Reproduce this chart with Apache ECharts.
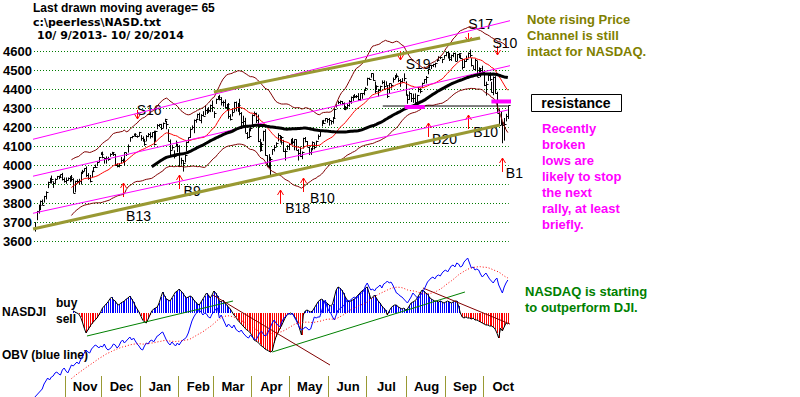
<!DOCTYPE html>
<html>
<head>
<meta charset="utf-8">
<script src="https://cdn.jsdelivr.net/npm/echarts@6.0.0/dist/echarts.min.js"></script>
<style>
html,body{margin:0;padding:0;background:#ffffff;}
#chart{width:800px;height:397px;}
</style>
</head>
<body>
<div id="chart"></div>
<script>
// ---------------- DATA (trading days 10/9/2013 .. 10/20/2014) ----------------
const closes = [
3677,3760,3792,3815,3794,3840,3863,3915,3920,3929,3907,3928,3943,3940,3953,3931,3920,
3922,3936,3940,3931,3857,3919,3919,3920,3966,3972,3985,3949,3932,3921,3969,3991,3994,4017,4044,4059,
4045,4037,4038,4033,4063,4069,4060,4004,3999,4001,4029,4023,4070,4059,4104,4148,4155,4167,4156,4154,4177,
4143,4131,4113,4153,4165,4156,4175,4113,4183,4215,4218,4197,4225,4243,4219,4128,4083,4097,4052,4123,4104,
3997,4031,4011,4057,4126,4148,4191,4201,4240,4244,4273,4238,4267,4263,4292,4287,4292,4319,4308,
4277,4351,4358,4352,4336,4334,4307,4323,4260,4245,4280,4333,4307,4319,4276,4227,4235,4173,4152,4155,4199,
4268,4276,4238,4128,4080,4113,4183,4054,3999,4022,4034,4086,4095,4121,4161,4126,4148,4076,4074,4104,4115,
4127,4123,4138,4080,4067,4051,4071,4144,4130,4100,4069,4090,4126,4096,4131,4154,4185,4237,4226,4248,4243,
4237,4234,4251,4296,4321,4336,4338,4331,4297,4310,4321,4337,4362,4359,4368,4368,4350,4379,4379,4398,4408,
4458,4457,4486,4452,4392,4419,4397,4416,4441,4417,4426,4364,4432,4425,4456,4474,4472,4450,4445,4442,4463,4370,
4352,4383,4353,4355,4335,4371,4402,4390,4435,4454,4465,4508,4528,4527,4532,4538,4557,4570,4570,4558,4580,
4598,4572,4562,4582,4593,4552,4586,4591,4568,4519,4552,4562,4593,4580,4528,4508,4556,4467,4512,4505,4493,
4423,4430,4476,4455,4385,4468,4379,4276,4214,4228,4215,4218,4258,4316];

const highs = [
3702,3761,3794,3816,3821,3840,3864,3915,3935,3947,3917,3932,3945,3946,3953,3961,3937,
3937,3937,3944,3950,3933,3920,3927,3930,3967,3977,3986,3995,3960,3950,3973,3992,4005,4022,4045,4070,
4073,4040,4048,4046,4064,4072,4070,4061,4012,4012,4045,4036,4070,4068,4111,4149,4156,4168,4170,4158,4177,
4160,4153,4140,4160,4171,4175,4175,4183,4183,4218,4219,4219,4226,4246,4235,4191,4137,4107,4080,4131,4114,
4107,4041,4028,4058,4126,4148,4196,4211,4242,4246,4273,4278,4270,4286,4314,4301,4307,4320,4342,
4286,4352,4366,4372,4360,4342,4348,4324,4329,4270,4296,4335,4337,4329,4351,4281,4262,4251,4176,4196,4205,
4269,4284,4278,4268,4140,4123,4183,4191,4054,4060,4045,4086,4107,4122,4170,4160,4155,4135,4090,4107,4116,
4140,4145,4138,4138,4086,4100,4074,4146,4150,4129,4100,4092,4127,4120,4131,4163,4185,4237,4240,4249,4248,
4250,4237,4255,4299,4322,4341,4342,4339,4332,4313,4324,4344,4363,4370,4376,4371,4381,4381,4381,4398,4412,
4462,4462,4486,4484,4442,4422,4403,4420,4448,4448,4443,4420,4434,4430,4463,4476,4485,4463,4455,4460,4485,4443,
4375,4390,4381,4378,4380,4372,4413,4407,4436,4455,4471,4510,4528,4530,4535,4541,4560,4575,4574,4562,4580,
4599,4601,4593,4583,4594,4594,4587,4591,4585,4562,4560,4578,4595,4610,4565,4525,4562,4550,4517,4509,4525,
4491,4441,4480,4490,4441,4469,4470,4388,4296,4284,4225,4250,4272,4316];

const lows = [
3652,3712,3747,3765,3791,3805,3822,3881,3906,3905,3882,3905,3928,3928,3935,3921,3910,
3904,3921,3912,3916,3855,3859,3906,3900,3900,3955,3970,3940,3925,3911,3938,3965,3988,3997,4018,4055,
4038,4010,4010,4025,4046,4060,4050,4000,3990,3990,4010,4015,4000,4050,4068,4125,4143,4156,4150,4146,4154,
4130,4127,4104,4127,4149,4142,4147,4106,4125,4191,4203,4187,4197,4228,4191,4127,4046,4083,4037,4099,4070,
3993,4005,3968,4017,4075,4118,4145,4191,4170,4225,4247,4236,4222,4260,4265,4271,4277,4281,4282,
4250,4324,4347,4343,4316,4310,4299,4290,4246,4237,4258,4282,4285,4282,4264,4192,4203,4172,4139,4144,4180,
4214,4259,4224,4123,4072,4076,4128,4051,3996,3985,3946,4056,4074,4098,4127,4125,4110,4071,4026,4082,4081,
4112,4110,4080,4080,4026,4045,4033,4089,4122,4100,4055,4056,4080,4085,4103,4136,4154,4206,4219,4231,4225,
4210,4215,4220,4246,4305,4323,4321,4317,4292,4291,4297,4309,4325,4340,4360,4355,4340,4340,4351,4370,4395,
4420,4450,4462,4446,4380,4398,4363,4390,4428,4397,4421,4355,4377,4405,4436,4455,4460,4439,4414,4435,4443,4368,
4325,4345,4334,4330,4322,4332,4386,4380,4410,4432,4432,4480,4510,4508,4518,4516,4545,4556,4560,4539,4562,
4575,4563,4550,4550,4570,4548,4550,4565,4560,4505,4514,4545,4565,4569,4521,4506,4500,4466,4471,4465,4491,
4418,4368,4445,4445,4384,4370,4378,4276,4213,4213,4117,4131,4232,4245];

// NASDJI relative-strength indicator (panel units)
const nasdji = [
null,null,null,null,null,null,null,null,null,null,null,null,null,null,null,null,null,null,null,null,null,
2,1,0,-1,-4,-9,-15,-20,-17,-14,
-11,-9,-7,-5,-2,1,5,7,9,11,
14,16,13,12,9,8,10,11,12,14,
15,17,14,11,7,4,1,-3,-7,-9,
-10,-6,-2,2,4,5,6,10,16,21,
17,14,13,12,15,18,21,22,24,22,
20,17,15,16,17,16,13,11,9,8,
11,14,17,20,18,15,18,22,20,17,
12,11,13,10,8,6,4,1,-2,-4,
-7,-9,-11,-13,-15,-17,-18,-20,-23,-27,
-28,-29,-31,-33,-34,-36,-37,-38,-39,-38,
-30,-24,-20,-16,-13,-9,-5,-2,-1,0,
-1,-3,-6,-10,-16,-22,-2,2,3,2,
1,2,5,8,11,13,14,12,11,10,
8,7,9,16,23,26,25,23,20,16,
13,11,12,13,14,16,18,20,22,23,
25,26,20,14,16,18,15,12,10,7,
5,3,-2,2,5,7,8,8,6,5,
4,5,3,4,7,10,11,12,14,17,
20,23,22,20,19,16,14,13,12,12,
11,12,11,10,11,12,11,10,11,12,
12,7,0,-4,-5,-4,-5,-5,-6,-5,
-7,-7,-8,-9,-10,-11,-12,-12,-13,-13,
-14,-16,-20,-25,-15,-18,-14,-10,-11];

// OBV (panel units)
const obv = [
0,2,4,6,8,13,16,19,17,20,
21,24,25,23,22,27,29,26,24,28,
32,31,33,35,33,37,40,44,47,45,
44,48,50,52,51,49,51,50,53,49,
47,48,50,53,52,49,51,55,57,54,
56,58,60,57,59,56,53,51,48,47,
51,54,53,56,57,55,58,61,62,64,
65,61,57,54,52,55,53,51,54,52,
55,57,58,60,64,70,76,80,83,85,
87,85,82,84,83,80,79,83,85,88,
89,79,82,78,74,70,73,71,69,72,
68,66,65,67,64,62,60,59,62,60,
58,57,60,64,66,63,61,62,66,70,
74,77,74,72,70,74,78,80,82,84,
82,84,80,77,73,69,67,68,70,69,
67,68,74,80,79,80,80,86,92,97,
90,86,84,80,77,82,87,88,90,91,
94,97,96,97,99,100,98,101,103,104,
106,111,114,110,107,108,106,109,110,112,
109,113,114,116,114,115,112,108,104,103,
101,100,98,96,94,97,100,104,102,100,
98,101,104,107,111,115,117,119,120,118,
121,122,121,124,126,127,125,128,131,132,
130,134,133,130,131,135,137,139,134,129,
130,127,128,127,123,120,122,124,121,118,
116,114,117,119,112,108,104,110,114,117];

const monthNames = ['Nov','Dec','Jan','Feb','Mar','Apr','May','Jun','Jul','Aug','Sep','Oct'];
const monthStarts = [17,37,58,79,98,119,140,161,182,204,225,246];

// Peerless signals
const signalNames  = ['B13','S16','B9','B18','B10','S19','B20','B10','S17','S10','B1'];
const signalDays   = [48,56,79,134,147,200,215,237,237,253,256];
const signalPrices = [3908,4245,3950,3871,3934,4555,4224,4266,4650,4582,4039];

// Channel / trend lines [day, price]
const channelTop    = [[-2.7,4134],[261.8,4766]];
const channelMid    = [[-2.7,3940],[261.8,4529]];
const channelLow    = [[-2.7,3745],[259,4292]];
const oliveLower    = [[-1,3666],[254.7,4213]];
const oliveUpper    = [[98,4387],[243.8,4671]];
const resistLine    = [[190.5,4313],[259,4313]];
const resistLink    = [[252,4337],[272,4337]];
const resistMark1   = [[202.5,4308],[213.5,4308]];
const resistMark2   = [[250,4337],[265.5,4337]];

// Lower panel trend lines [day, value]
const greenTrend1  = [[28.5,-23],[108.5,12]];
const greenTrend2  = [[130,-39],[235.5,21]];
const maroonTrend1 = [[97.5,18],[161.6,-52]];
const maroonTrend2 = [[212.5,25],[268,-17]];

// ---------------- helpers ----------------
if (highs.length !== closes.length || lows.length !== closes.length || obv.length !== closes.length || nasdji.length !== closes.length) {
  throw new Error('length mismatch ' + [closes.length, highs.length, lows.length, obv.length, nasdji.length].join(','));
}
function sma(a, n) {
  const out = [];
  for (let i = n - 1; i < a.length; i++) {
    let s = 0; for (let j = i - n + 1; j <= i; j++) s += a[j];
    out.push([i, s / n]);
  }
  return out;
}
// 21-day average +/- k standard deviations measured over a longer look-back
function band(a, n, look, k) {
  const out = [];
  for (let i = n - 1; i < a.length; i++) {
    let s = 0; for (let j = i - n + 1; j <= i; j++) s += a[j];
    const m = s / n;
    const st = Math.max(0, i - look + 1);
    let s2 = 0; for (let j = st; j <= i; j++) s2 += a[j];
    const m2 = s2 / (i - st + 1);
    let q = 0; for (let j = st; j <= i; j++) q += (a[j] - m2) * (a[j] - m2);
    out.push([i, m + k * Math.sqrt(q / (i - st + 1))]);
  }
  return out;
}
const FONT = '"Liberation Sans", Arial, sans-serif';
const FONT2 = '"DejaVu Sans", Verdana, sans-serif';
const OLIVE = '#999933';
const labelOffsets = [[16,33],[12,-9],[13,16],[18,18],[19,20],[18,4],[17,16],[18,17],[13,-18],[8,-12],[12,15]];

const ma21 = sma(closes, 21);
const ma65 = sma(closes, 65);
const upperBand = band(closes, 21, 50, 2);
const lowerBand = band(closes, 21, 50, -2);
const obvMA = sma(obv, 21);
const nasdjiPts = nasdji.map((v, i) => [i, v]).filter(d => d[1] !== null);

function lineS(data, color, width, extra) {
  return Object.assign({
    type: 'line', xAxisIndex: 0, yAxisIndex: 0, data: data, showSymbol: false, symbol: 'none',
    clip: false, silent: true, smooth: false,
    lineStyle: { color: color, width: width }
  }, extra || {});
}
function txt(x, y, s, font, color, align) {
  return { type: 'text', x: x, y: y, style: { text: s, font: font, fill: color, align: align || 'left', verticalAlign: 'middle' } };
}

const chart = echarts.init(document.getElementById('chart'), null, { renderer: 'svg' });
const option = {
  animation: false,
  backgroundColor: '#ffffff',
  grid: [
    { left: 34, top: 51.5, width: 474.76, height: 190 },
    { left: 34, top: 250, width: 474.76, height: 126 }
  ],
  xAxis: [
    { type: 'value', gridIndex: 0, min: -0.5, max: 259.5, show: false },
    { type: 'value', gridIndex: 1, min: -0.5, max: 259.5, position: 'bottom',
      axisLine: { show: false, onZero: false }, splitLine: { show: false },
      axisTick: { show: true, customValues: monthStarts.map(s => s - 0.5), length: 21,
                  lineStyle: { color: OLIVE, width: 1 } },
      axisLabel: { show: true, customValues: monthStarts.map(s => s + 10.5), margin: 4,
                   formatter: v => monthNames[monthStarts.indexOf(Math.round(v - 10.5))],
                   fontFamily: FONT, fontWeight: 'bold', fontSize: 13, color: '#000' } }
  ],
  yAxis: [
    { type: 'value', gridIndex: 0, min: 3600, max: 4600, interval: 100,
      axisLine: { show: false }, axisTick: { show: false },
      axisLabel: { margin: 2, fontFamily: FONT, fontWeight: 'bold', fontSize: 13, color: '#000',
                   formatter: v => String(v) },
      splitLine: { show: true, lineStyle: { color: '#007a00', width: 1, type: [1, 2] } } },
    { type: 'value', gridIndex: 1, min: -63, max: 63, show: false },
    { type: 'value', gridIndex: 1, min: 21, max: 147, show: false }
  ],
  graphic: [
    txt(33, 8, 'Last drawn moving average= 65', 'bold 12px ' + FONT, '#000'),
    txt(33, 22.5, 'c:\\peerless\\NASD.txt', 'bold 11px ' + FONT2, '#000'),
    txt(37, 35, '10/ 9/2013- 10/ 20/2014', 'bold 11px ' + FONT2, '#000'),
    txt(527, 19, 'Note rising Price', 'bold 13px ' + FONT, '#808000'),
    txt(527, 35, 'Channel is still', 'bold 13px ' + FONT, '#808000'),
    txt(527, 51, 'intact for NASDAQ.', 'bold 13px ' + FONT, '#808000'),
    { type: 'rect', shape: { x: 531.5, y: 94.5, width: 90, height: 17 }, style: { fill: '#fff', stroke: '#000', lineWidth: 1 } },
    txt(576, 103, 'resistance', 'bold 14px ' + FONT, '#000', 'center'),
    txt(542, 128, 'Recently', 'bold 13px ' + FONT, '#ff00ff'),
    txt(542, 144, 'broken', 'bold 13px ' + FONT, '#ff00ff'),
    txt(542, 160, 'lows are', 'bold 13px ' + FONT, '#ff00ff'),
    txt(542, 176, 'likely to stop', 'bold 13px ' + FONT, '#ff00ff'),
    txt(542, 192, 'the next', 'bold 13px ' + FONT, '#ff00ff'),
    txt(542, 208, 'rally, at least', 'bold 13px ' + FONT, '#ff00ff'),
    txt(542, 224, 'briefly.', 'bold 13px ' + FONT, '#ff00ff'),
    txt(525, 291, 'NASDAQ is starting', 'bold 13px ' + FONT, '#008000'),
    txt(525, 307, 'to outperform DJI.', 'bold 13px ' + FONT, '#008000'),
    txt(2, 312, 'NASDJI', 'bold 12px ' + FONT, '#000'),
    txt(56, 303, 'buy', 'bold 12px ' + FONT, '#000'),
    txt(56, 319, 'sell', 'bold 12px ' + FONT, '#000'),
    txt(2, 355, 'OBV (blue line)', 'bold 12px ' + FONT, '#000')
  ],
  series: [
    // bands and 21-day average
    lineS(upperBand, '#800000', 1),
    lineS(lowerBand, '#800000', 1),
    lineS(ma21, '#ff0000', 1),
    // channel lines
    lineS(channelTop, '#ff00ff', 1),
    lineS(channelMid, '#ff00ff', 1),
    lineS(channelLow, '#ff00ff', 1),
    lineS(oliveLower, OLIVE, 3),
    lineS(oliveUpper, OLIVE, 3),
    // price bars
    { type: 'custom', xAxisIndex: 0, yAxisIndex: 0, clip: false, silent: true,
      data: closes.map((c, i) => [i, lows[i], highs[i], c]),
      renderItem: function (params, api) {
        const x = api.value(0);
        const lo = api.coord([x, api.value(1)]);
        const hi = api.coord([x, api.value(2)]);
        const cl = api.coord([x, api.value(3)]);
        const px = Math.round(lo[0]) + 0.5;
        const cy = Math.round(cl[1]) + 0.5;
        return { type: 'group', children: [
          { type: 'line', shape: { x1: px, y1: lo[1], x2: px, y2: hi[1] }, style: { stroke: '#000', lineWidth: 1 } },
          { type: 'line', shape: { x1: px, y1: cy, x2: px + 2, y2: cy }, style: { stroke: '#000', lineWidth: 1 } }
        ] };
      } },
    // 65-day moving average
    lineS(ma65, '#000000', 3),
    // resistance
    lineS(resistLine, '#000000', 1),
    lineS(resistLink, '#000000', 1),
    lineS(resistMark1, '#ff00ff', 4),
    lineS(resistMark2, '#ff00ff', 4),
    // signals
    { type: 'custom', xAxisIndex: 0, yAxisIndex: 0, clip: false, silent: true,
      data: signalDays.map((d, i) => [d, signalPrices[i], i]),
      renderItem: function (params, api) {
        const i = api.value(2);
        const name = signalNames[i];
        const p = api.coord([api.value(0), api.value(1)]);
        const up = name.charAt(0) === 'B';
        const x = Math.round(p[0]) + 0.5, y = Math.round(p[1]);
        const len = up ? 14 : 9;
        const y2 = up ? y + len : y - len;
        const head = up ? [[x - 3, y + 5], [x, y], [x + 3, y + 5]] : [[x - 3, y - 5], [x, y], [x + 3, y - 5]];
        const off = labelOffsets[i];
        return { type: 'group', children: [
          { type: 'line', shape: { x1: x, y1: y, x2: x, y2: y2 }, style: { stroke: '#ff0000', lineWidth: 1 } },
          { type: 'polyline', shape: { points: head }, style: { stroke: '#ff0000', fill: null, lineWidth: 1 } },
          { type: 'text', x: p[0] + off[0], y: p[1] + off[1],
            style: { text: name, font: '14px ' + FONT, fill: '#000', align: 'center', verticalAlign: 'middle' } }
        ] };
      } },
    // lower panel: NASDJI histogram
    { type: 'custom', xAxisIndex: 1, yAxisIndex: 1, clip: false, silent: true,
      data: nasdjiPts,
      renderItem: function (params, api) {
        const x = api.value(0), v = api.value(1);
        const a = api.coord([x, 0]), b = api.coord([x, v]);
        const px = Math.round(a[0]) + 0.5;
        return { type: 'line', shape: { x1: px, y1: a[1], x2: px, y2: b[1] },
                 style: { stroke: v >= 0 ? '#0000ff' : '#ff0000', lineWidth: 1 } };
      } },
    lineS(nasdjiPts, '#000000', 1, { xAxisIndex: 1, yAxisIndex: 1 }),
    lineS(greenTrend1, '#008000', 1, { xAxisIndex: 1, yAxisIndex: 1 }),
    lineS(greenTrend2, '#008000', 1, { xAxisIndex: 1, yAxisIndex: 1 }),
    lineS(maroonTrend1, '#800000', 1, { xAxisIndex: 1, yAxisIndex: 1 }),
    lineS(maroonTrend2, '#800000', 1, { xAxisIndex: 1, yAxisIndex: 1 }),
    // OBV and its average
    lineS(obv.map((v, i) => [i, v]), '#0000ff', 1, { xAxisIndex: 1, yAxisIndex: 2 }),
    lineS(obvMA, '#ff0000', 1, { xAxisIndex: 1, yAxisIndex: 2, lineStyle: { color: '#ff0000', width: 1, type: [1, 2] } })
  ]
};
chart.setOption(option);
</script>
</body>
</html>
